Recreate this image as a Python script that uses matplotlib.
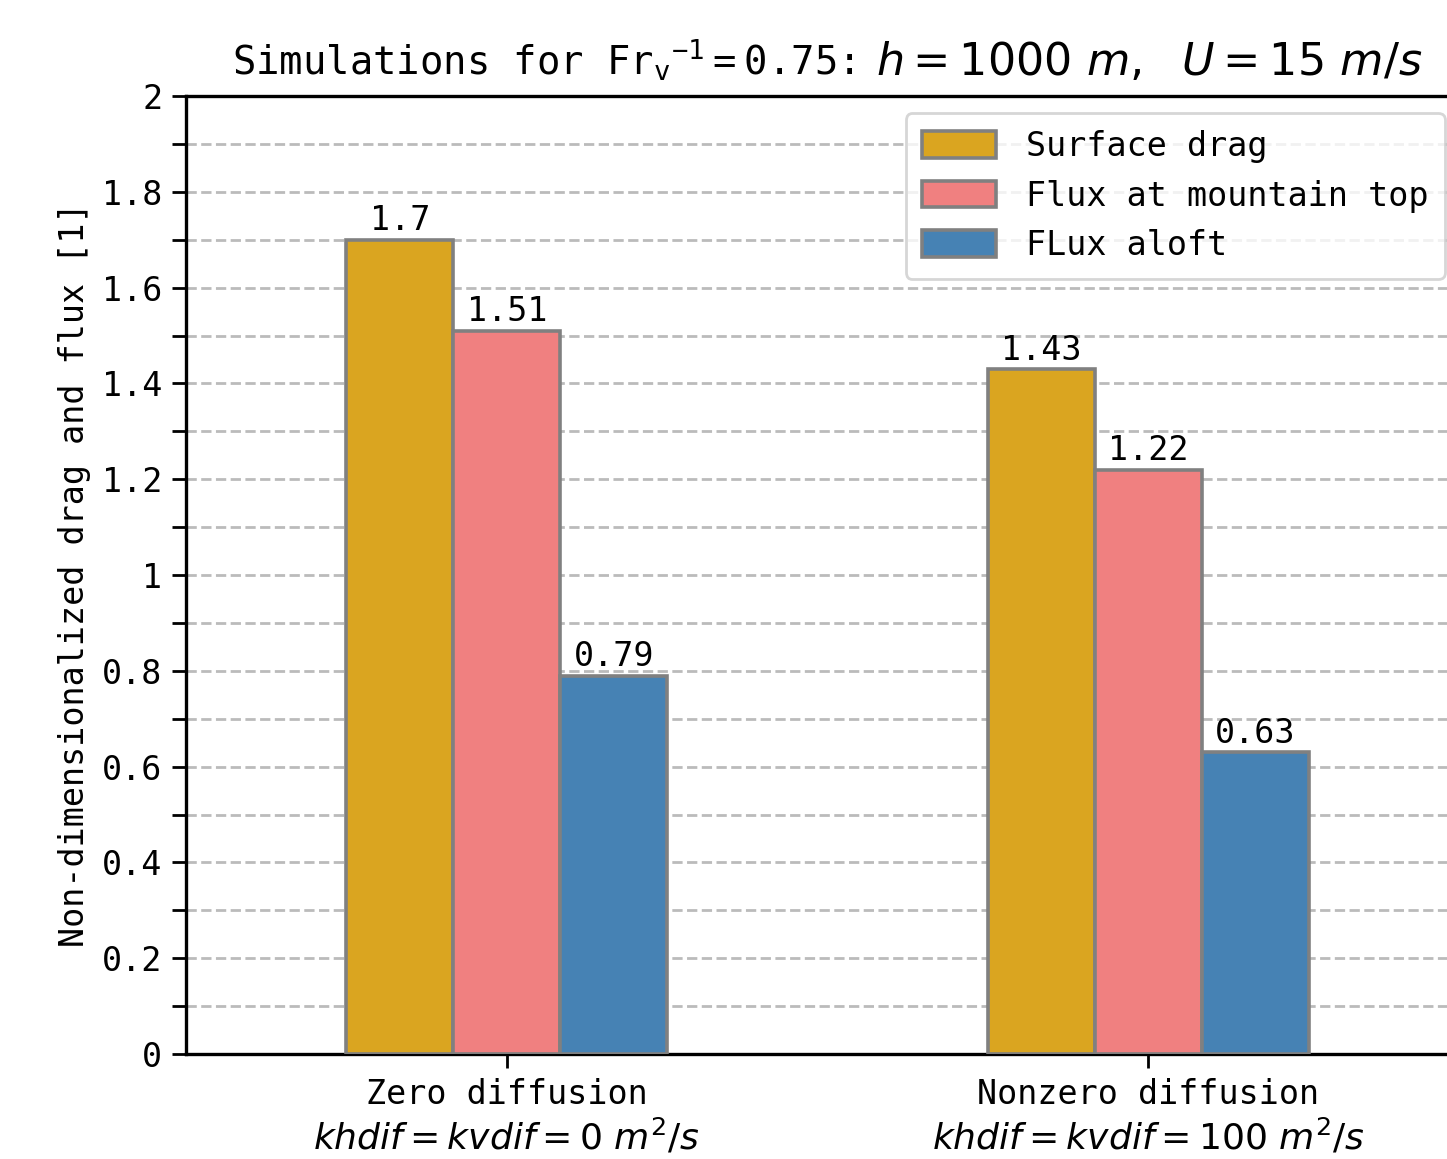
import matplotlib
matplotlib.use("Agg")
import matplotlib.pyplot as plt
import numpy as np
from matplotlib.ticker import MultipleLocator, FuncFormatter

plt.rcParams['font.family'] = 'DejaVu Sans Mono'
plt.rcParams['mathtext.fontset'] = 'dejavusans'

groups = ["Zero diffusion", "Nonzero diffusion"]
group_params = ["$khdif = kvdif = 0\\ m^2/s$", "$khdif = kvdif = 100\\ m^2/s$"]
series_names = ["Surface drag", "Flux at mountain top", "FLux aloft"]
surface_drag = [1.7, 1.43]
flux_top = [1.51, 1.22]
flux_aloft = [0.79, 0.63]
labels_top = [["1.7", "1.43"], ["1.51", "1.22"], ["0.79", "0.63"]]
colors = ["goldenrod", "lightcoral", "steelblue"]

W, H = 1447, 1159
fig = plt.figure(figsize=(W/200, H/200), dpi=200)
ax = fig.add_axes([186/W, 1-1054/H, 1-186/W+0.002, (1054-96)/H])

x = np.arange(len(groups))
w = 1/6
data = [surface_drag, flux_top, flux_aloft]
for i, (vals, name, c) in enumerate(zip(data, series_names, colors)):
    bars = ax.bar(x + (i-1)*w, vals, w, color=c, edgecolor='gray', linewidth=1.3,
                  label=name, zorder=3)
    for b, lab in zip(bars, labels_top[i]):
        ax.text(b.get_x()+b.get_width()/2, b.get_height()+0.005, lab,
                ha='center', va='bottom', fontsize=12, zorder=4)

ax.set_xlim(-0.5, 1.47)
ax.set_ylim(0, 2)
ax.set_xticks(x)
ax.set_xticklabels(groups, fontsize=12)
for xi, p in zip(x, group_params):
    ax.annotate(p, xy=(xi, 0), xycoords=('data', 'axes fraction'),
                xytext=(0, -34.5), textcoords='offset points',
                ha='center', va='baseline', fontsize=13, annotation_clip=False)
ax.yaxis.set_major_locator(MultipleLocator(0.2))
ax.yaxis.set_minor_locator(MultipleLocator(0.1))
ax.yaxis.set_major_formatter(FuncFormatter(lambda v, p: ('%g' % round(v, 2))))
ax.tick_params(axis='y', labelsize=12, length=5, width=1)
ax.tick_params(axis='y', which='minor', length=5, width=1)
ax.tick_params(axis='x', length=5, width=1)
ax.grid(axis='y', which='both', linestyle='--', color='#bbbbbb', linewidth=1, zorder=0)
ax.set_ylabel("Non-dimensionalized drag and flux [1]", fontsize=12)
for s in ax.spines.values():
    s.set_linewidth(1.2)
ax.spines['right'].set_visible(False)

t1 = fig.text(232/W, 1-75/H,
              "Simulations for Fr$_\\mathregular{v}$$^\\mathregular{-1}$$\\mathregular{=0.75}$:",
              fontsize=14, ha='left', va='baseline')
fig.canvas.draw()
ax.annotate("$h = 1000\\ m,\\ \\ U = 15\\ m/s$", xy=(1, 1-75/H),
            xycoords=(t1, 'figure fraction'), xytext=(8, 0), textcoords='offset points',
            ha='left', va='baseline', fontsize=16, annotation_clip=False)

ax.legend(loc='upper right', bbox_to_anchor=(0.996, 0.982), borderaxespad=0,
          fontsize=12, handlelength=2.2, handleheight=0.85, handletextpad=0.9,
          borderpad=0.5)

fig.savefig("out.png", dpi=200)
